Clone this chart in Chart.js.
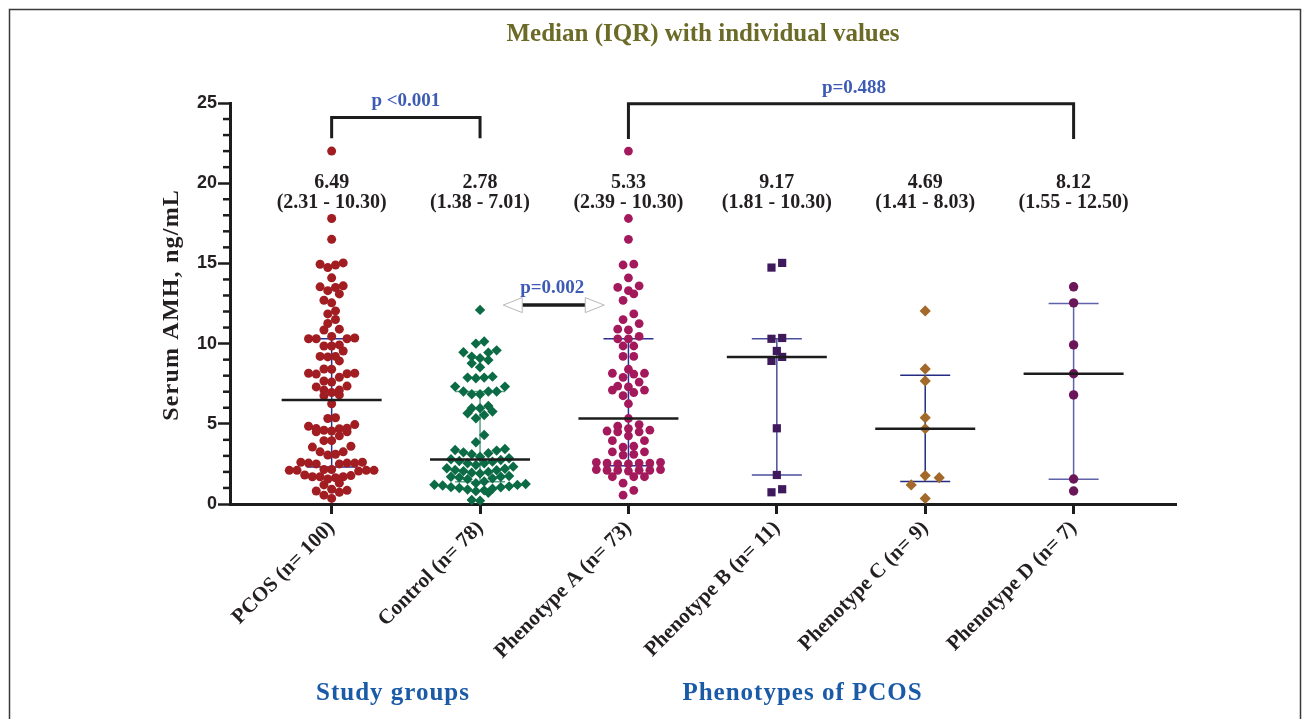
<!DOCTYPE html>
<html lang="en">
<head>
<meta charset="UTF-8">
<title>Serum AMH - median (IQR) with individual values</title>
<script src="https://cdn.jsdelivr.net/npm/chart.js@4"></script>
<style>
  html, body { margin: 0; padding: 0; background: #fff; }
  #wrap { position: relative; width: 1311px; height: 719px; }
</style>
</head>
<body>
<div id="wrap"><canvas id="amhChart"></canvas></div>
<script>
// groups along the x axis
const groups = ['PCOS (n= 100)', 'Control (n= 78)', 'Phenotype A (n= 73)',
                'Phenotype B (n= 11)', 'Phenotype C (n= 9)', 'Phenotype D (n= 7)'];

// individual AMH values (ng/mL)
const phenoA = [22.0, 17.8, 16.5, 14.95, 14.9, 14.1, 13.6, 13.5, 13.3, 13.1, 12.7, 11.85, 11.5, 11.25, 10.9, 10.85, 10.45, 10.3, 10.3,
                9.85, 9.85, 9.2, 9.2,
                8.4, 8.15, 8.15, 8.1, 7.9,
                7.6, 7.35, 7.3, 7.1, 7.1, 6.95, 6.75,
                6.25, 5.33,
                4.95, 4.85, 4.7, 4.6, 4.55, 4.5, 4.5, 4.25, 3.95, 3.95, 3.6, 3.55, 3.25, 3.25, 3.1, 3.05,
                2.6, 2.55, 2.55, 2.5, 2.55, 2.6, 2.5, 2.15, 2.1, 2.1, 2.05, 2.1, 2.15, 2.1, 1.7, 1.7, 1.7, 1.3, 0.85, 0.55];
const phenoB = [15.03, 14.74, 10.35, 10.3, 9.54, 9.17, 8.92, 4.72, 1.81, 0.92, 0.73];
const phenoC = [12.04, 8.42, 7.67, 5.38, 4.69, 1.77, 1.64, 1.19, 0.35];
const phenoD = [13.54, 12.54, 9.92, 8.12, 6.8, 1.56, 0.81];
const control = [12.1, 10.13, 10.0, 9.58, 9.46, 9.44, 9.19, 9.09, 8.98, 8.77, 8.53, 7.94, 7.88, 7.88, 7.84, 7.32, 7.32, 7.01, 7.01, 7.01,
                 6.84, 6.84, 6.11, 5.97, 5.97, 5.76, 5.66, 5.55, 5.35, 4.3, 3.85,
                 3.43, 3.37, 3.33, 3.22, 3.16, 3.1, 2.95, 2.85, 2.79,
                 2.74, 2.68, 2.64, 2.54, 2.54, 2.43,
                 2.33, 2.23, 2.2, 2.12, 2.1, 2.05, 2.0, 1.95, 1.9,
                 1.75, 1.7, 1.7, 1.65, 1.6, 1.55,
                 1.4, 1.3, 1.25, 1.2, 1.19, 1.15, 1.1, 1.05, 1.04, 1.0, 0.95, 0.9, 0.85, 0.8, 0.7, 0.25, 0.21];
// PCOS = the four phenotypes together (73 + 11 + 9 + 7 = 100)
const pcos = phenoA.concat(phenoB, phenoC, phenoD);

// reported median (IQR)
const medians = [6.49, 2.78, 5.33, 9.17, 4.69, 8.12];
const q1 = [2.31, 1.38, 2.39, 1.81, 1.41, 1.55];
const q3 = [10.30, 7.01, 10.30, 10.30, 8.03, 12.50];

// comparisons
const pLabels = ['p <0.001', 'p=0.488', 'p=0.002'];

const series = [pcos, control, phenoA, phenoB, phenoC, phenoD];

// styling
const dotColors = ['#a11d22', '#0b6b45', '#a3195b', '#3e1a5c', '#a2692a', '#6b1659'];
const dotShapes = ['circle', 'rectRot', 'circle', 'rect', 'rectRot', 'circle'];
const dotRadius = [4.5, 5.2, 4.4, 5.8, 5.6, 4.7];
const swarmGap = [7.7, 8.3, 10.7, 10.7, 28, 10.7];     // px between neighbours in a row
const swarmRow = [9, 8, 7, 9, 9, 9];                    // px height of a row
const iqrColors = ['#2b2f8f', '#5ba088', '#2b2f8f', '#4a4e9c', '#232c80', '#5f62a8'];
const ink = '#231f20';
const serif = "'Liberation Serif', 'Times New Roman', serif";

function swarmOffsets(vals, gap, rowH, pxY) {
    // GraphPad-like scatter: walk up the sorted values, start a new row once a value
    // is a row height above the first one of the current row, then spread each row
    const order = vals.map((v, i) => i).sort((a, b) => vals[a] - vals[b]);
    const rows = [];
    let cur = null, start = 0;
    order.forEach(i => {
        const y = vals[i] * pxY;
        if (!cur || y - start >= rowH) { cur = []; rows.push(cur); start = y; }
        cur.push(i);
    });
    const offs = [];
    rows.forEach(idx => {
        const n = idx.length;
        const slots = [...Array(n).keys()]
            .map(k => (k - (n - 1) / 2) * gap)
            .sort((a, b) => Math.abs(a) - Math.abs(b) || a - b);
        idx.forEach((i, k) => { offs[i] = slots[k]; });
    });
    return offs;
}

function text(ctx, s, x, y, font, color, spacing) {
    ctx.save();
    ctx.font = font;
    ctx.fillStyle = color;
    ctx.textAlign = 'center';
    ctx.textBaseline = 'middle';
    if (spacing) ctx.letterSpacing = spacing + 'px';
    ctx.fillText(s, x + (spacing ? spacing / 2 : 0), y);
    ctx.restore();
}

function line(ctx, pts, width, color) {
    ctx.save();
    ctx.lineWidth = width;
    ctx.strokeStyle = color;
    ctx.lineCap = 'butt';
    ctx.lineJoin = 'miter';
    ctx.beginPath();
    pts.forEach((p, k) => k ? ctx.lineTo(p[0], p[1]) : ctx.moveTo(p[0], p[1]));
    ctx.stroke();
    ctx.restore();
}

const extras = {
    id: 'extras',
    beforeDatasetsDraw(chart) {
        const ctx = chart.ctx, xs = chart.scales.x, ys = chart.scales.y;
        groups.forEach((g, i) => {
            const cx = xs.getPixelForValue(i);
            const a = ys.getPixelForValue(q1[i]), b = ys.getPixelForValue(q3[i]);
            line(ctx, [[cx, a], [cx, b]], 1.5, iqrColors[i]);
            line(ctx, [[cx - 25, a], [cx + 25, a]], 1.5, iqrColors[i]);
            line(ctx, [[cx - 25, b], [cx + 25, b]], 1.5, iqrColors[i]);
        });
    },
    afterDatasetsDraw(chart) {
        const ctx = chart.ctx, xs = chart.scales.x, ys = chart.scales.y;
        const X = v => xs.getPixelForValue(v), Y = v => ys.getPixelForValue(v);

        // medians and the numbers above each group
        groups.forEach((g, i) => {
            const cx = X(i), m = Y(medians[i]);
            line(ctx, [[cx - 50, m], [cx + 50, m]], 2.5, '#1c1c1c');
            text(ctx, medians[i].toFixed(2), cx, Y(20.05), 'bold 20px ' + serif, ink);
            text(ctx, '(' + q1[i].toFixed(2) + ' - ' + q3[i].toFixed(2) + ')', cx, Y(18.75), 'bold 20px ' + serif, ink);
        });

        // PCOS vs control bracket
        line(ctx, [[X(0), Y(22.8)], [X(0), Y(24.1)], [X(1), Y(24.1)], [X(1), Y(22.8)]], 3, '#1c1c1c');
        text(ctx, pLabels[0], (X(0) + X(1)) / 2, Y(25.15), 'bold 19px ' + serif, '#3d5bb5');
        // phenotype A vs D bracket
        line(ctx, [[X(2), Y(22.75)], [X(2), Y(24.95)], [X(5), Y(24.95)], [X(5), Y(22.75)]], 3, '#1c1c1c');
        text(ctx, pLabels[1], (X(2) + X(5)) / 2 + 3, Y(25.95), 'bold 19px ' + serif, '#3d5bb5');

        // control vs phenotype A double arrow
        const mid = X(1.5), ay = Y(12.4);
        line(ctx, [[mid - 32, ay], [mid + 31, ay]], 3.5, '#1c1c1c');
        ctx.save();
        ctx.fillStyle = '#fff';
        ctx.strokeStyle = '#b8b8b8';
        ctx.lineWidth = 1;
        [[-1, mid - 32], [1, mid + 31]].forEach(([dir, bx]) => {
            ctx.beginPath();
            ctx.moveTo(bx, ay - 7.5);
            ctx.lineTo(bx + dir * 19, ay);
            ctx.lineTo(bx, ay + 7.5);
            ctx.closePath();
            ctx.fill();
            ctx.stroke();
        });
        ctx.restore();
        text(ctx, pLabels[2], mid - 2, ay - 17, 'bold 19px ' + serif, '#3d5bb5');
    },
    afterDraw(chart) {
        const ctx = chart.ctx, xs = chart.scales.x, ys = chart.scales.y;
        const area = chart.chartArea;
        // minor ticks on the y axis
        for (let v = 1; v < 25; v++) {
            if (v % 5 === 0) continue;
            const y = ys.getPixelForValue(v);
            line(ctx, [[area.left - 7, y], [area.left, y]], 2.5, '#1c1c1c');
        }
        // y axis title
        ctx.save();
        ctx.translate(172, (area.top + area.bottom) / 2 + 2);
        ctx.rotate(-Math.PI / 2);
        text(ctx, 'Serum AMH, ng/mL', 0, 0, 'bold 24px ' + serif, ink, 1.2);
        ctx.restore();
        // heading and group captions
        text(ctx, 'Median (IQR) with individual values', 703, 35, 'bold 25px ' + serif, '#6b6a26');
        text(ctx, 'Study groups', xs.getPixelForValue(0.41), 694, 'bold 25px ' + serif, '#1a5aa6', 1);
        text(ctx, 'Phenotypes of PCOS', xs.getPixelForValue(3.17), 694, 'bold 25px ' + serif, '#1a5aa6', 1);
        // frame of the figure
        line(ctx, [[9.5, 719], [9.5, 9.5], [1300.5, 9.5], [1300.5, 719]], 1.5, '#3a3a3a');
    }
};

const datasets = series.map((vals, i) => ({
    label: groups[i],
    data: vals.map(v => ({ x: i, y: v })),
    backgroundColor: dotColors[i],
    borderColor: dotColors[i],
    borderWidth: 0,
    pointStyle: dotShapes[i],
    pointRadius: dotRadius[i],
    pointHoverRadius: dotRadius[i],
    clip: false
}));

const ctx = document.getElementById('amhChart').getContext('2d');
const chart = new Chart(ctx, {
    type: 'scatter',
    data: { datasets: datasets },
    options: {
        responsive: true,
        maintainAspectRatio: false,
        animation: false,
        layout: { padding: { top: 103, left: 156, right: 135, bottom: 0 } },
        plugins: { legend: { display: false }, tooltip: { enabled: false } },
        scales: {
            x: {
                type: 'linear',
                min: -0.685,
                max: 5.69,
                afterBuildTicks: s => { s.ticks = groups.map((g, i) => ({ value: i })); },
                afterFit: s => { s.height = 215; },
                grid: { drawOnChartArea: false, tickLength: 10, tickWidth: 3, tickColor: '#1c1c1c' },
                border: { width: 3, color: '#1c1c1c' },
                ticks: {
                    autoSkip: false,
                    minRotation: 45,
                    maxRotation: 45,
                    padding: 2,
                    color: ink,
                    font: { family: serif, weight: 'bold', size: 21 },
                    callback: (v, idx) => groups[idx]
                }
            },
            y: {
                min: 0,
                max: 25,
                afterFit: s => { s.width = 74; },
                grid: { drawOnChartArea: false, tickLength: 12, tickWidth: 2.5, tickColor: '#1c1c1c' },
                border: { width: 3, color: '#1c1c1c' },
                ticks: {
                    stepSize: 5,
                    padding: 1,
                    color: ink,
                    font: { family: "'Liberation Sans', Arial, sans-serif", weight: 'bold', size: 18 }
                }
            }
        }
    },
    plugins: [extras]
});

// spread the dots sideways once the scales know their pixel sizes
const pxX = chart.scales.x.getPixelForValue(1) - chart.scales.x.getPixelForValue(0);
const pxY = chart.scales.y.getPixelForValue(0) - chart.scales.y.getPixelForValue(1);
series.forEach((vals, i) => {
    const offs = swarmOffsets(vals, swarmGap[i], swarmRow[i], pxY);
    chart.data.datasets[i].data = vals.map((v, k) => ({ x: i + offs[k] / pxX, y: v }));
});
chart.update('none');
</script>
</body>
</html>
